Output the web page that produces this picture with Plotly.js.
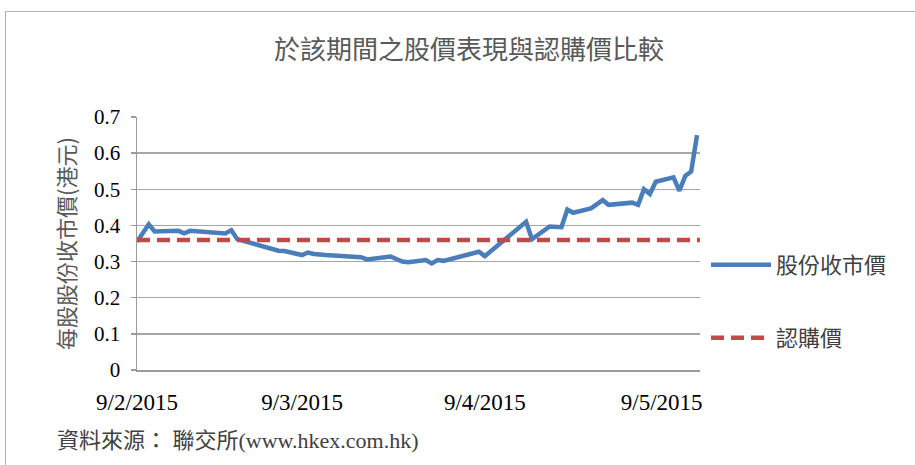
<!DOCTYPE html>
<html>
<head>
<meta charset="utf-8">
<script src="https://cdn.plot.ly/plotly-3.0.1.min.js"></script>
<style>
  html, body { margin: 0; padding: 0; background: #fff; }
  #wrap { position: relative; width: 915px; height: 465px; overflow: hidden; }
  #chart { width: 915px; height: 465px; }
  #frame { position: absolute; left: 5px; top: 11px; width: 1000px; height: 600px;
           border-left: 1.5px solid #b0b0b0; border-top: 1.5px solid #b0b0b0; pointer-events: none; }
</style>
</head>
<body>
<div id="wrap">
  <div id="chart"></div>
  <div id="frame"></div>
</div>
<script>
// ---- data ----
const dates = [
  '2015-02-09','2015-02-11','2015-02-12','2015-02-16','2015-02-17','2015-02-18',
  '2015-02-24','2015-02-25','2015-02-26','2015-02-27','2015-03-04','2015-03-05',
  '2015-03-06','2015-03-09','2015-03-10','2015-03-11','2015-03-13','2015-03-16',
  '2015-03-19','2015-03-20','2015-03-23','2015-03-24','2015-03-26','2015-03-27',
  '2015-03-30','2015-03-31','2015-04-01','2015-04-02','2015-04-08','2015-04-09',
  '2015-04-16','2015-04-17','2015-04-20','2015-04-22','2015-04-23','2015-04-24',
  '2015-04-27','2015-04-29','2015-04-30','2015-05-04','2015-05-05','2015-05-06',
  '2015-05-07','2015-05-08','2015-05-11','2015-05-12','2015-05-13','2015-05-14',
  '2015-05-15'
];
const closePrice = [
  0.355,0.403,0.383,0.385,0.378,0.385,
  0.378,0.387,0.362,0.357,0.332,0.330,
  0.329,0.318,0.325,0.321,0.318,0.314,
  0.312,0.306,0.312,0.314,0.300,0.298,
  0.304,0.295,0.304,0.302,0.327,0.315,
  0.410,0.362,0.397,0.395,0.444,0.435,
  0.447,0.470,0.457,0.463,0.457,0.500,
  0.487,0.521,0.533,0.496,0.537,0.549,
  0.650
];
const subscriptionPrice = 0.36;
const seriesNames = ['股份收市價', '認購價'];
const tickVals = ['2015-02-09','2015-03-09','2015-04-09','2015-05-09'];
const tickText = ['9/2/2015','9/3/2015','9/4/2015','9/5/2015'];
const yTicks = [0,0.1,0.2,0.3,0.4,0.5,0.6,0.7];
const yTickText = ['0','0.1','0.2','0.3','0.4','0.5','0.6','0.7'];
const titleText = '於該期間之股價表現與認購價比較';
const yTitleText = '每股股份收市價(港元)';
const sourceText = '資料來源： 聯交所(www.hkex.com.hk)';

const FONT = '"Liberation Serif", "Times New Roman", "Noto Sans CJK TC", serif';
const CJK = '"Noto Sans CJK TC", "Liberation Serif", sans-serif';

const traces = [
  {
    x: dates, y: closePrice, type: 'scatter', mode: 'lines',
    name: seriesNames[0], legend: 'legend',
    line: { color: '#4A7EBB', width: 4.5 }
  },
  {
    x: ['2015-02-09', '2015-05-15 12:00'],
    y: [subscriptionPrice, subscriptionPrice],
    type: 'scatter', mode: 'lines',
    name: seriesNames[1], legend: 'legend2',
    line: { color: '#BE4B48', width: 4.5, dash: '13px,7px' }
  }
];

const layout = {
  width: 915, height: 465,
  margin: { l: 137, r: 215, t: 117, b: 95 },
  paper_bgcolor: '#ffffff', plot_bgcolor: '#ffffff',
  showlegend: true,
  title: {
    text: titleText,
    font: { family: CJK, size: 26, color: '#595959' },
    x: 469 / 915, xanchor: 'center', xref: 'container',
    y: 1 - 50 / 465, yanchor: 'middle', yref: 'container'
  },
  xaxis: {
    type: 'date',
    range: ['2015-02-09', '2015-05-15 12:00'],
    tickmode: 'array', tickvals: tickVals, ticktext: tickText,
    showgrid: false, zeroline: false,
    showline: true, linecolor: '#9a9a9a', linewidth: 1.5,
    ticks: '', ticklabelstandoff: 11,
    tickfont: { family: FONT, size: 23, color: '#000000' }
  },
  yaxis: {
    range: [0, 0.7],
    tickmode: 'array', tickvals: yTicks, ticktext: yTickText,
    showgrid: true, gridcolor: '#a6a6a6', gridwidth: 1.5,
    zeroline: false,
    showline: true, linecolor: '#9a9a9a', linewidth: 1.5,
    ticks: 'outside', ticklen: 5, tickcolor: '#9a9a9a', tickwidth: 1.5,
    ticklabelstandoff: 6,
    tickfont: { family: FONT, size: 21, color: '#000000' },
    title: {
      text: yTitleText, standoff: 12,
      font: { family: CJK, size: 22, color: '#595959' }
    }
  },
  legend: {
    x: (706 - 137) / 563, xanchor: 'left',
    y: (370 - 265) / 253, yanchor: 'middle',
    font: { family: CJK, size: 22, color: '#404040' },
    itemwidth: 60, bgcolor: 'rgba(0,0,0,0)'
  },
  legend2: {
    x: (706 - 137) / 563, xanchor: 'left',
    y: (370 - 338) / 253, yanchor: 'middle',
    font: { family: CJK, size: 22, color: '#404040' },
    itemwidth: 60, bgcolor: 'rgba(0,0,0,0)'
  },
  annotations: [
    {
      text: sourceText, xref: 'paper', yref: 'paper',
      x: (55 - 137) / 563, xanchor: 'left',
      y: (370 - 440) / 253, yanchor: 'middle',
      showarrow: false,
      font: { family: FONT, size: 22, color: '#404040' }
    }
  ]
};

Plotly.newPlot('chart', traces, layout, { displayModeBar: false, staticPlot: true });
</script>
</body>
</html>
